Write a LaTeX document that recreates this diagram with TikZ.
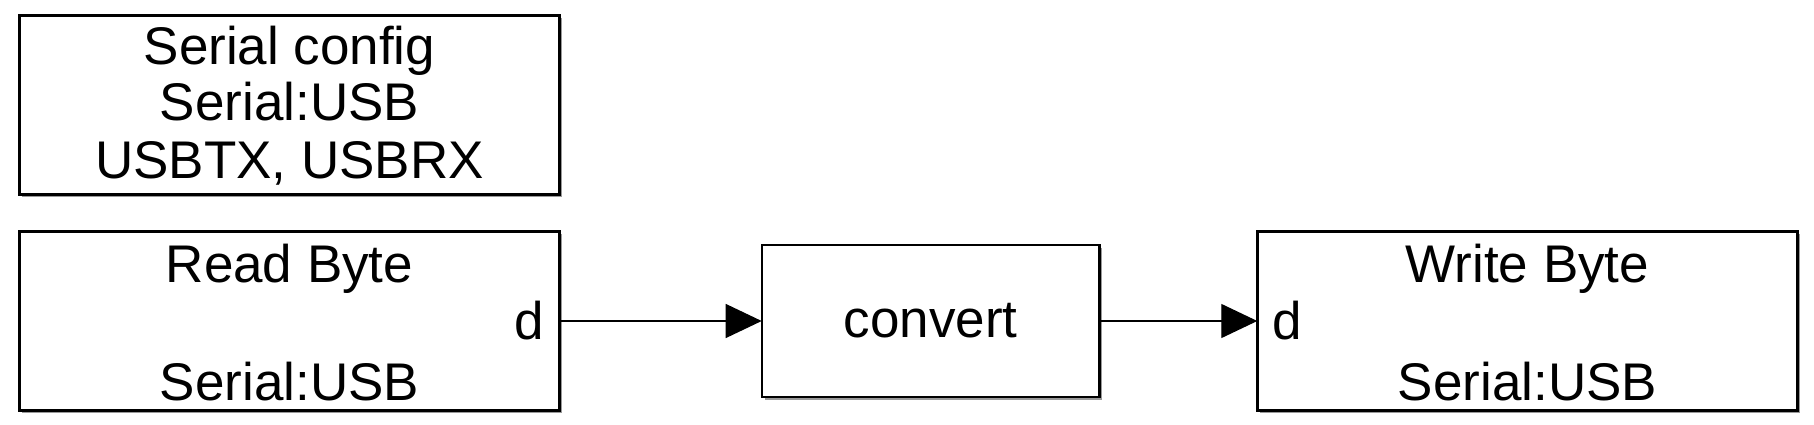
\documentclass[tikz,border=0pt]{standalone}
\usepackage{fontspec}
\setmainfont{Liberation Sans}
\usetikzlibrary{arrows.meta,shadows}
\begin{document}
\begin{tikzpicture}[x=1pt,y=-1pt,
  blk/.style={draw, line width=2.4pt, fill=white, rectangle, inner sep=0pt, outer sep=0pt,
    drop shadow={shadow xshift=2.8pt, shadow yshift=-2.8pt, fill=black, opacity=0.4}},
  lbl/.style={inner sep=0pt, font=\fontsize{53}{56.5}\selectfont},
  conn/.style={line width=1.3pt, -{Triangle[length=36pt,width=34pt]}}]
\useasboundingbox (0,0) rectangle (1814,425);
% blocks
\node[blk, minimum width=540pt, minimum height=179pt] (cfg) at (289.5,105) {};
\node[blk, minimum width=540pt, minimum height=179pt] (rb) at (289.5,321) {};
\node[blk, minimum width=337.6pt, minimum height=151.7pt] (cv) at (930.5,321) {};
\node[blk, minimum width=540.2pt, minimum height=178.8pt] (wb) at (1527.4,321) {};
% texts
\node[lbl, anchor=base] (cfgA) at (289.5,65) {Serial config};
\node[lbl, anchor=base] (cfgB) at (289.5,121) {Serial:USB};
\node[lbl, anchor=base] (cfgC) at (289.5,178) {USBTX, USBRX};
\node[lbl, anchor=base] (rbA) at (289.5,282) {Read Byte};
\node[lbl, anchor=base east] (rbD) at (544,339) {d};
\node[lbl, anchor=base] (rbB) at (289.5,400) {Serial:USB};
\node[lbl, anchor=base] (cvA) at (930.5,337) {convert};
\node[lbl, anchor=base] (wbA) at (1527.4,282) {Write Byte};
\node[lbl, anchor=base west] (wbD) at (1272,339) {d};
\node[lbl, anchor=base] (wbB) at (1527.4,400) {Serial:USB};
% connectors
\draw[conn] (rb.east) -- (rb.east -| cv.west);
\draw[conn] (cv.east) -- (cv.east -| wb.west);
\end{tikzpicture}
\end{document}
